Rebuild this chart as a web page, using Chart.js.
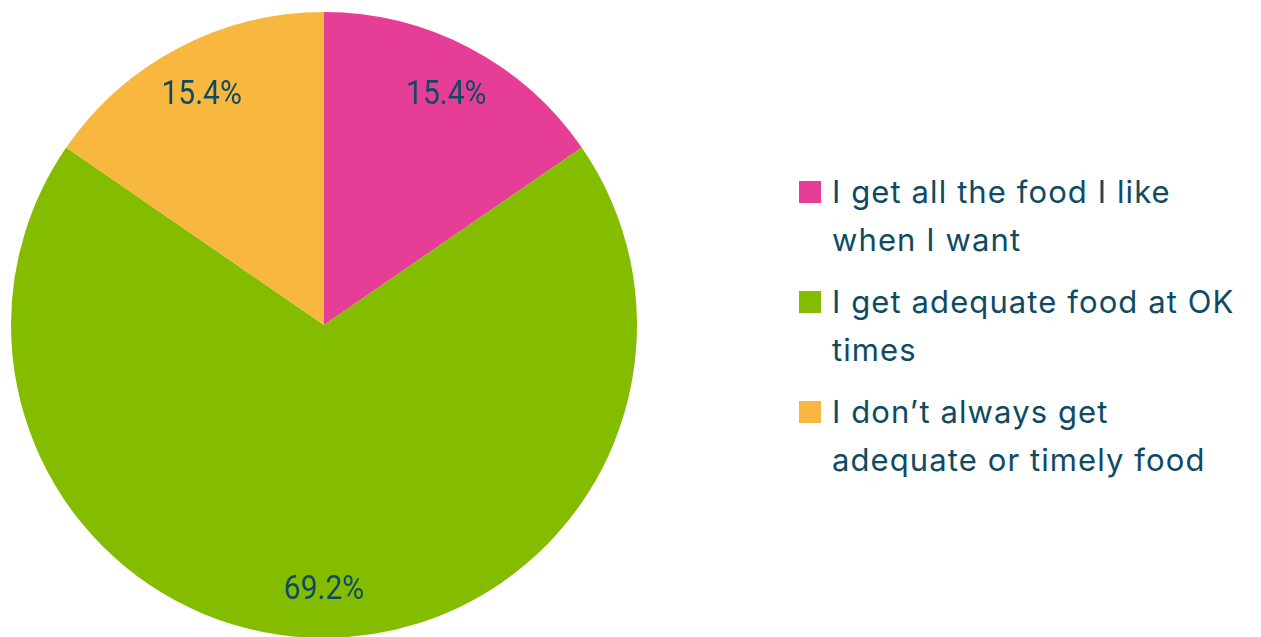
<!DOCTYPE html>
<html>
<head>
<meta charset="utf-8">
<script src="https://cdn.jsdelivr.net/npm/chart.js@4"></script>
<style>
  html, body { margin: 0; padding: 0; background: #ffffff; overflow: hidden; }
  #wrap { position: relative; width: 1261px; height: 637px; }
  #pieBox { position: absolute; left: 0; top: 0; width: 648px; height: 650px; }
  #legend { position: absolute; left: 799px; top: 168px; font-family: "Inter", "Open Sans", sans-serif;
            font-size: 31px; letter-spacing: 1.1px; color: #0e4b63; line-height: 48px; }
  .item { display: flex; align-items: flex-start; margin-bottom: 14px; }
  .sw { width: 22px; height: 22px; margin-top: 13px; margin-right: 11px; flex: none; }
  .txt { width: 440px; }
</style>
</head>
<body>
<div id="wrap">
  <div id="pieBox"><canvas id="c"></canvas></div>
  <div id="legend"></div>
</div>
<script>
const categories = [
  "I get all the food I like\nwhen I want",
  "I get adequate food at OK\ntimes",
  "I don\u2019t always get\nadequate or timely food"
];
const shares = [15.4, 69.2, 15.4];
const sliceColors = ["#e63e96", "#84bd00", "#f8b840"];
const textColor = "#0e4b63";

// legend built from the same categories / colours
const legendEl = document.getElementById("legend");
categories.forEach((name, i) => {
  const item = document.createElement("div");
  item.className = "item";
  const sw = document.createElement("div");
  sw.className = "sw";
  sw.style.background = sliceColors[i];
  const t = document.createElement("div");
  t.className = "txt";
  t.innerHTML = name.split("\n").join("<br>");
  item.appendChild(sw);
  item.appendChild(t);
  legendEl.appendChild(item);
});

// percentage text inside each slice
const sliceLabels = {
  id: "sliceLabels",
  afterDatasetsDraw(chart) {
    const ctx = chart.ctx;
    const meta = chart.getDatasetMeta(0);
    meta.data.forEach((arc, i) => {
      const p = arc.getProps(["x", "y", "startAngle", "endAngle", "outerRadius"], true);
      const mid = (p.startAngle + p.endAngle) / 2;
      const r = p.outerRadius * 0.84;
      ctx.save();
      ctx.translate(p.x + Math.cos(mid) * r, p.y + Math.sin(mid) * r + 3);
      ctx.scale(1, 1.12);
      ctx.font = "400 30px Roboto, 'Liberation Sans', sans-serif";
      ctx.fillStyle = textColor;
      ctx.textAlign = "center";
      ctx.textBaseline = "middle";
      ctx.fillText(shares[i].toFixed(1) + "%", 0, 0);
      ctx.restore();
    });
  }
};

new Chart(document.getElementById("c"), {
  type: "pie",
  data: {
    labels: categories,
    datasets: [{
      data: shares,
      backgroundColor: sliceColors,
      borderWidth: 0
    }]
  },
  options: {
    responsive: true,
    maintainAspectRatio: false,
    animation: false,
    layout: { padding: { left: 10, right: 10, top: 12, bottom: 12 } },
    plugins: {
      legend: { display: false },
      tooltip: { enabled: false }
    }
  },
  plugins: [sliceLabels]
});
</script>
</body>
</html>
